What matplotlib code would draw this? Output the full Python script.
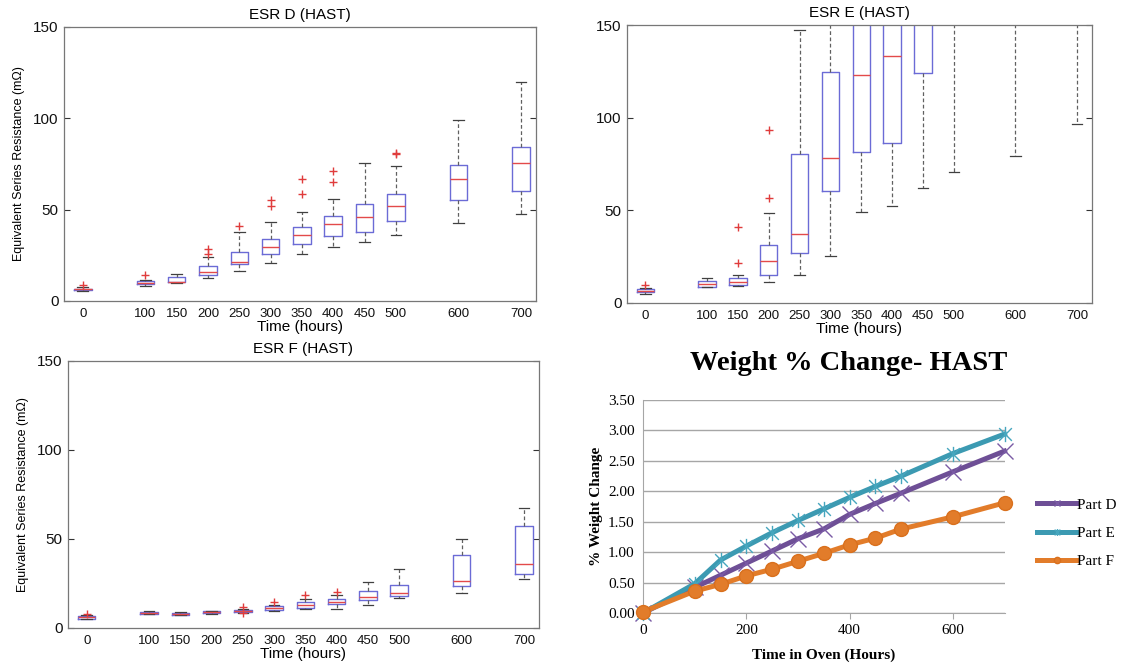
import numpy as np
import matplotlib
matplotlib.use("Agg")
import matplotlib.pyplot as plt
from matplotlib.path import Path

# --- ESR box plot data ---
hours = [0, 100, 150, 200, 250, 300, 350, 400, 450, 500, 600, 700]
hour_labels = [str(h) for h in hours]

# Part D
d_lo = [5.2, 8.4, 9.7, 12.8, 16.6, 20.6, 25.5, 29.7, 32.1, 35.9, 42.8, 47.4]
d_q1 = [5.8, 9.1, 10.2, 14.2, 20.0, 25.5, 31.0, 35.4, 37.9, 43.9, 55.2, 60.3]
d_med = [6.3, 10.0, 10.6, 16.0, 21.5, 29.7, 35.9, 42.1, 46.1, 51.8, 66.7, 75.6]
d_q3 = [6.8, 10.9, 12.9, 19.1, 26.8, 33.7, 40.6, 46.7, 53.0, 58.3, 74.5, 84.4]
d_hi = [7.5, 11.5, 14.8, 24.0, 37.5, 43.4, 48.7, 55.6, 75.3, 74.0, 99.1, 120.1]
d_fliers = [[8.8], [14.0], [], [25.7, 28.2], [41.0], [52.1, 55.2], [58.7, 66.7],
            [65.0, 70.9], [], [80.4, 81.1], [], []]

# Part E
e_lo = [5.0, 8.6, 9.0, 11.5, 15.3, 25.1, 49.0, 52.6, 61.8, 70.6, 79.4, 96.5]
e_q1 = [5.7, 8.6, 9.5, 15.1, 26.8, 60.4, 81.7, 86.6, 124.0, 180.0, 190.0, 200.0]
e_med = [6.6, 10.2, 11.5, 22.8, 37.4, 78.1, 123.2, 133.5, 170.0, 200.0, 210.0, 220.0]
e_q3 = [7.5, 11.7, 13.3, 31.3, 80.5, 124.8, 160.0, 165.0, 200.0, 230.0, 240.0, 250.0]
e_hi = [7.9, 13.3, 15.1, 48.5, 147.3, 170.0, 200.0, 210.0, 250.0, 280.0, 290.0, 300.0]
e_fliers = [[9.7], [], [21.7, 41.1], [56.6, 93.4], [], [], [], [], [], [], [], []]

# Part F
f_lo = [4.9, 7.7, 7.1, 7.9, 8.6, 9.75, 10.9, 10.9, 13.1, 16.9, 19.7, 27.6]
f_q1 = [5.25, 8.1, 7.3, 8.25, 9.0, 10.3, 11.4, 13.5, 15.9, 18.0, 23.8, 30.2]
f_med = [6.0, 8.6, 7.9, 9.0, 9.6, 11.4, 12.75, 14.8, 17.25, 19.7, 26.4, 36.0]
f_q3 = [6.6, 9.2, 8.4, 9.6, 10.3, 12.2, 14.4, 16.1, 20.8, 24.4, 40.9, 57.4]
f_hi = [7.3, 9.75, 9.0, 9.75, 10.9, 12.75, 16.1, 18.4, 25.7, 33.4, 49.9, 67.5]
f_fliers = [[7.9], [], [], [], [8.25, 11.6], [14.8], [18.4], [20.3], [], [], [], []]

# --- Weight % change data ---
oven_hours = [0, 100, 150, 200, 250, 300, 350, 400, 450, 500, 600, 700]
part_d = [0.0, 0.42, 0.62, 0.82, 1.02, 1.22, 1.38, 1.62, 1.80, 1.97, 2.32, 2.66]
part_e = [0.0, 0.48, 0.87, 1.10, 1.32, 1.52, 1.71, 1.90, 2.08, 2.25, 2.62, 2.94]
part_f = [0.02, 0.36, 0.47, 0.61, 0.72, 0.85, 0.98, 1.12, 1.23, 1.38, 1.58, 1.81]

sans = ["Liberation Sans", "DejaVu Sans"]
serif = ["Liberation Serif", "DejaVu Serif"]

fig = plt.figure(figsize=(11.25, 6.69), dpi=100)


def esr_panel(rect, title, lo, q1, med, q3, hi, fliers, ylabel=True):
    ax = fig.add_axes(rect)
    stats = []
    for a, b, c, d, e, fl in zip(lo, q1, med, q3, hi, fliers):
        stats.append(dict(whislo=a, q1=b, med=c, q3=d, whishi=e, fliers=fl))
    ax.bxp(stats, positions=hours, widths=28, capwidths=17, manage_ticks=False,
           boxprops=dict(color="#6b6bd6", linewidth=1.0),
           medianprops=dict(color="#e34a4a", linewidth=1.0),
           whiskerprops=dict(color="#606060", linewidth=0.9, linestyle=(0, (3, 2))),
           capprops=dict(color="#404040", linewidth=0.9),
           flierprops=dict(marker="+", markeredgecolor="#e03c3c", markersize=6,
                           markeredgewidth=1.0, linestyle="none"))
    ax.set_xlim(-30, 724)
    ax.set_ylim(0, 150)
    ax.set_yticks([0, 50, 100, 150])
    ax.set_xticks(hours, hour_labels)
    ax.tick_params(axis="y", direction="in", right=True, length=4, width=0.8,
                   labelsize=11, colors="#333333", labelcolor="#111111", pad=4)
    ax.tick_params(axis="x", length=0, labelsize=9.5, labelcolor="#111111", pad=5)
    for lab in ax.get_xticklabels() + ax.get_yticklabels():
        lab.set_family(sans)
    for sp in ax.spines.values():
        sp.set_color("#777777")
        sp.set_linewidth(0.9)
    ax.set_title(title, fontsize=11, family=sans, pad=6)
    ax.set_xlabel("Time (hours)", fontsize=11, family=sans, labelpad=0)
    if ylabel:
        ax.set_ylabel("Equivalent Series Resistance (mΩ)", fontsize=9, family=sans,
                      labelpad=6)
    return ax


esr_panel([0.0569, 0.5501, 0.4196, 0.4096], "ESR D (HAST)",
          d_lo, d_q1, d_med, d_q3, d_hi, d_fliers)
esr_panel([0.5573, 0.5471, 0.4133, 0.4155], "ESR E (HAST)",
          e_lo, e_q1, e_med, e_q3, e_hi, e_fliers, ylabel=False)
esr_panel([0.0604, 0.0613, 0.4187, 0.3991], "ESR F (HAST)",
          f_lo, f_q1, f_med, f_q3, f_hi, f_fliers)

# --- Weight % change panel ---
ax = fig.add_axes([0.5716, 0.0837, 0.3213, 0.3184])
star = Path([(-1, -1), (1, 1), (-1, 1), (1, -1), (0, -1.2), (0, 1.2)],
            [Path.MOVETO, Path.LINETO] * 3)

ax.plot(oven_hours, part_d, color="#6e4f96", lw=3.6, marker="x", markersize=11,
        markeredgewidth=1.0, markeredgecolor="#7a5aa5", label="Part D",
        clip_on=False, zorder=3)
ax.plot(oven_hours, part_e, color="#3c9ab2", lw=3.6, marker=star, markersize=11,
        markeredgewidth=1.0, markeredgecolor="#46a6be", label="Part E",
        clip_on=False, zorder=4)
ax.plot(oven_hours, part_f, color="#e27c2a", lw=3.6, marker="o", markersize=10,
        markeredgecolor="#d9701d", markerfacecolor="#e27c2a", label="Part F",
        clip_on=False, zorder=5)

ax.set_xlim(0, 700)
ax.set_ylim(0, 3.5)
ax.set_yticks(np.arange(0, 3.51, 0.5))
ax.set_yticklabels([f"{v:.2f}" for v in np.arange(0, 3.51, 0.5)])
ax.set_xticks([0, 200, 400, 600])
ax.yaxis.grid(True, color="#a6a6a6", linewidth=1.0)
ax.set_axisbelow(True)
ax.spines["top"].set_visible(False)
ax.spines["right"].set_visible(False)
ax.spines["left"].set_color("#a6a6a6")
ax.spines["bottom"].set_color("#a6a6a6")
ax.tick_params(axis="y", length=0, labelsize=11, pad=6)
ax.tick_params(axis="x", direction="out", length=4, color="#a6a6a6",
               labelsize=11, pad=4)
for lab in ax.get_xticklabels() + ax.get_yticklabels():
    lab.set_family(serif)
ax.set_xlabel("Time in Oven (Hours)", fontsize=11, fontweight="bold", family=serif,
              labelpad=8)
ax.set_ylabel("% Weight Change", fontsize=11, fontweight="bold", family=serif,
              labelpad=4)
leg = ax.legend(loc="center left", bbox_to_anchor=(1.09, 0.375), frameon=False,
                prop=dict(family=serif, size=11), handlelength=2.6, markerscale=0.45,
                handletextpad=0.0, labelspacing=0.95, borderaxespad=0, borderpad=0)

fig.text(0.754, 0.457, "Weight % Change- HAST", ha="center", va="center",
         fontsize=20.5, fontweight="bold", family=serif)

fig.savefig("out.png", dpi=100)
